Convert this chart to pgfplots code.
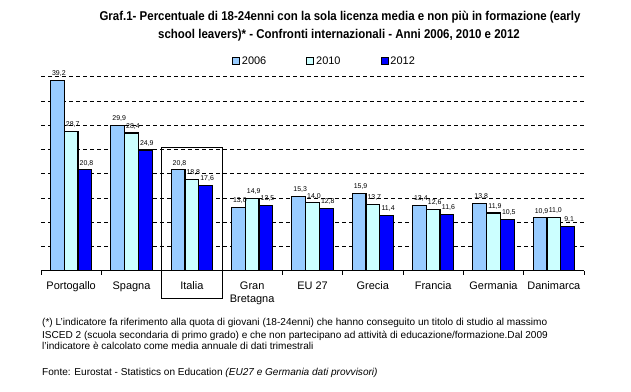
\documentclass[border=0pt]{standalone}
\usepackage{fontspec}
\setmainfont{Liberation Sans}
\newfontfamily\titlefont[FakeStretch=0.9]{Liberation Sans}
\usepackage{pgfplots}
\usepackage{pgfplotstable}
\pgfplotsset{compat=1.18}
\definecolor{c06}{RGB}{153,204,255}
\definecolor{c10}{RGB}{204,255,255}
\definecolor{c12}{RGB}{0,0,255}
\pgfplotstableread{
x a b c
0 39.2 28.7 20.8
1 29.9 28.4 24.9
2 20.8 18.8 17.6
3 13.0 14.9 13.5
4 15.3 14.0 12.8
5 15.9 13.7 11.4
6 13.4 12.6 11.6
7 13.8 11.9 10.5
8 10.9 11.0 9.1
}\data
\begin{document}
\begin{tikzpicture}[x=1bp,y=1bp]
\useasboundingbox (0,0) rectangle (631,391);
\node[font=\titlefont\bfseries\fontsize{12.8}{14}\selectfont] at (340,374) {Graf.1- Percentuale di 18-24enni con la sola licenza media e non più in formazione (early};
\node[font=\titlefont\bfseries\fontsize{12.8}{14}\selectfont] at (339,356) {school leavers)* - Confronti internazionali - Anni 2006, 2010 e 2012};
\begin{axis}[
  at={(41bp,120.3bp)}, anchor=south west,
  scale only axis, width=543bp, height=193.9bp,
  xmin=-0.5, xmax=8.5, ymin=0, ymax=40,
  axis x line=bottom, axis y line=left,
  x axis line style={-, black, line width=0.8bp},
  y axis line style={draw=none},
  ytick={5,10,...,40}, yticklabels={}, ytick style={draw=none},
  ymajorgrids, major grid style={black, line width=0.8bp, dash pattern=on 4bp off 3bp},
  xtick={0,...,8},
  xticklabels={Portogallo,Spagna,Italia,{Gran\\Bretagna},EU 27,Grecia,Francia,Germania,Danimarca},
  xticklabel style={align=center, font=\fontsize{11}{13}\selectfont, yshift=-3bp},
  major x tick style={draw=none},
  minor xtick={-0.5,0.5,...,8.5},
  minor tick length=4bp, tick align=outside,
  minor x tick style={black, line width=0.8bp},
  ybar=0pt, bar width=13.8bp,
  clip=false,
  nodes near coords,
  nodes near coords style={font=\fontsize{7}{8}\selectfont, xshift=1.5bp,
    /pgf/number format/.cd, fixed, fixed zerofill, precision=1, use comma, assume math mode=true},
  legend columns=3,
  legend style={at={(0.522,1.081)}, anchor=center, draw=none, fill=none,
    font=\fontsize{11}{12}\selectfont,
    /tikz/every even column/.append style={column sep=38bp}},
  legend image code/.code={\draw[#1, line width=0.9bp] (0bp,-3.5bp) rectangle (7bp,3.5bp);},
]
\addplot[fill=c06, draw=black, line width=1.2bp, bar shift=-13.8bp] table[x=x,y=a]{\data};
\addplot[fill=c10, draw=black, line width=1.2bp, bar shift=0bp] table[x=x,y=b]{\data};
\addplot[fill=c12, draw=black, line width=1.2bp, bar shift=13.8bp] table[x=x,y=c]{\data};
\legend{2006,2010,2012}
\draw[black, line width=0.8bp] (axis cs:1.5,25.4) rectangle ([yshift=-27.3bp]axis cs:2.5,0);
\end{axis}
\begin{scope}[every node/.style={anchor=base west, inner sep=0pt, font=\fontsize{10.1}{12}\selectfont}]
\node at (42,66) {(*) L'indicatore fa riferimento alla quota di giovani (18-24enni) che hanno conseguito un titolo di studio al massimo};
\node at (42,53) {ISCED 2 (scuola secondaria di primo grado) e che non partecipano ad attività di educazione/formazione.Dal 2009};
\node at (42,42) {l'indicatore è calcolato come media annuale di dati trimestrali};
\node at (42,16) {Fonte: Eurostat - Statistics on Education \textit{(EU27 e Germania dati provvisori)}};
\end{scope}
\end{tikzpicture}
\end{document}
